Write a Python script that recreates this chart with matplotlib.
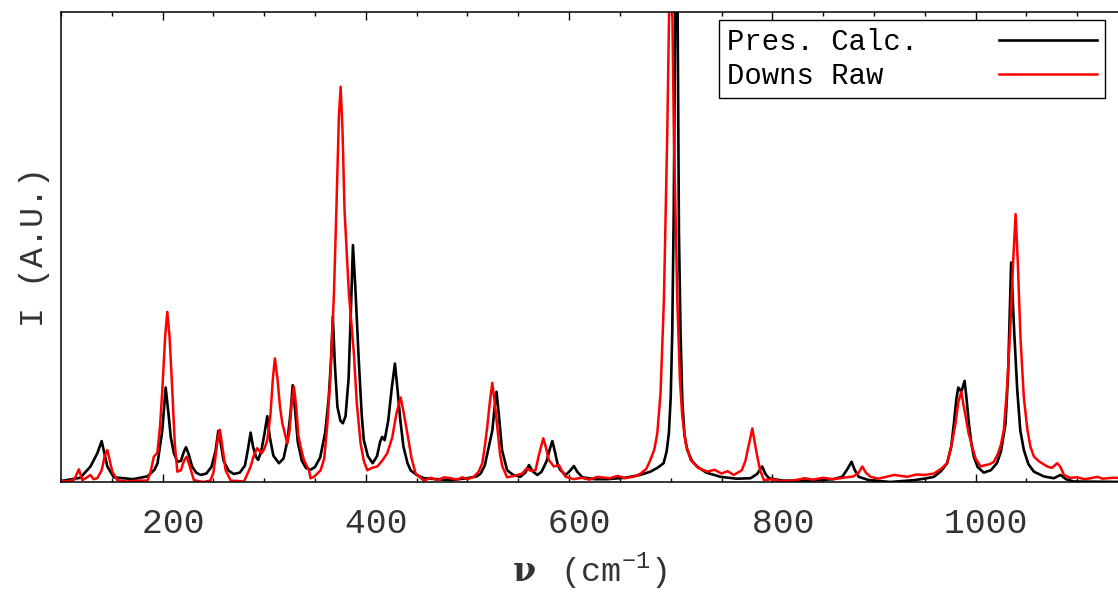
import matplotlib
matplotlib.use('Agg')
import matplotlib.pyplot as plt
from matplotlib.ticker import MultipleLocator

plt.rcParams['font.family'] = ['Liberation Mono', 'DejaVu Sans']
plt.rcParams['mathtext.fontset'] = 'custom'
plt.rcParams['mathtext.rm'] = 'Liberation Mono'
plt.rcParams['mathtext.bf'] = 'DejaVu Serif:bold'

# Pres. Calc. (black)
calc_x = [100, 119, 129, 135.7, 140, 142, 145.6, 152, 171, 185, 192, 195, 199.7, 203, 206, 208,
          211, 214.5, 218, 221, 223, 225.5, 229, 233, 237.4, 243, 248, 252, 254.8, 257, 260,
          265, 270, 276, 281, 284, 286.6, 289, 292, 294, 297, 300, 303, 305.5, 309, 314.5,
          319, 323, 326, 328, 330.5, 333, 337, 341, 345.6, 350, 355, 360, 363.5, 366, 367.5,
          369.5, 372, 375, 377.4, 380, 383, 385.5, 387.3, 389.5, 393, 396, 398, 402, 406.7,
          411, 414, 416, 418.5, 422, 425.5, 428.6, 431, 434, 437, 441, 444, 450, 457, 483,
          500, 509, 513, 517, 521, 524.5, 526.5, 528.6, 531, 534, 539, 545, 552, 557, 560.5,
          564, 568.7, 573, 578, 581, 583.5, 586, 589, 591.6, 596.6, 601, 604.7, 608, 613,
          625, 637.6, 655, 670, 680, 686.8, 693, 696, 698.2, 700, 701.5, 703, 704.4, 705.6,
          706.8, 708.1, 709.7, 711.4, 713.5, 716.3, 721, 726, 735, 749, 765, 778.6, 785, 790,
          793, 796.6, 810, 840, 860, 868.8, 874, 878, 881, 885, 895, 916, 940, 952, 959, 966,
          972, 976, 978.7, 981, 983, 986, 989.2, 991, 993.4, 996, 998.3, 1002, 1008, 1015,
          1021, 1025, 1029.5, 1032, 1035, 1038, 1041, 1044, 1047.5, 1052, 1057.4, 1067, 1077,
          1083.6, 1089, 1096.7, 1150]
calc_y = [0.2, 0.9, 3.3, 6.1, 8.7, 6.8, 3.3, 1.0, 0.6, 1.2, 2.6, 4.0, 11, 20.1, 14, 9.6,
          6.2, 4.3, 4.5, 6.5, 7.4, 6.0, 3.3, 2.0, 1.5, 1.8, 3.2, 6.5, 10.9, 8.5, 4.5,
          2.4, 1.7, 2.0, 3.5, 7, 10.5, 7.5, 5.3, 4.7, 6.5, 10, 14, 9.5, 5.6, 4.0,
          5.0, 9, 15, 20.6, 15, 8.5, 4.5, 3.0, 2.6, 3.2, 5.2, 10.5, 18, 27, 35.2,
          25, 16, 13, 12.5, 14, 22, 38, 50.4, 42, 26, 14, 8.9, 5.5, 4.0,
          5.5, 8.5, 9.6, 8.9, 13, 20, 25.2, 20, 13, 7.5, 4, 2.5, 1.5, 0.8, 0.4,
          0.8, 1.2, 1.8, 3.5, 7.5, 11, 15.5, 19.2, 14, 6.8, 2.5, 1.5, 1.1, 2.0, 3.6,
          2.3, 1.5, 2.2, 4.5, 7, 8.7, 6.5, 3.5, 2.5, 1.5, 2.4, 3.4, 2.2, 1.0,
          0.6, 0.6, 0.9, 1.5, 2.2, 3.0, 4.0, 6.5, 10.4, 18, 31.6, 58, 100, 150,
          100, 53, 31.6, 17.4, 10, 6.8, 4.5, 3.3, 2.0, 1.1, 0.7, 0.8, 1.7, 3.3,
          1.8, 0.8, 0.3, 0.3, 0.6, 1.1, 2.8, 4.3, 2.6, 1.1, 0.4, 0.0, 0.4, 0.8, 1.1, 2.3,
          4.0, 7.5, 12.5, 17.5, 20.1, 19.2, 21.5, 18, 12.5, 8, 5.4, 3.2, 2.0, 2.5,
          4.0, 6.5, 12.5, 23, 46.7, 32, 19.6, 11, 6.8, 3.8, 2.2, 1.2, 0.8,
          1.5, 0.6, 0.1, 0.0]

# Downs Raw (red)
raw_x = [100, 106, 113, 117.6, 121, 125, 129, 132, 135.7, 140, 143, 145.6, 148, 150.5, 155.4,
         165, 175, 185, 188, 191.4, 194.8, 197.5, 199.7, 202.5, 204.6, 206.8, 209.5, 212,
         214.5, 218, 221, 223.6, 226.5, 230.8, 240, 247, 250, 252, 254.5, 256.4, 258.5, 262,
         267, 275, 280, 283, 286.6, 290, 293, 297.4, 300, 303, 306, 308.5, 310.5, 313, 315.5,
         317.8, 322.7, 325, 327, 329.2, 331.5, 333.5, 335.8, 339, 344, 345.6, 349, 355.5,
         359, 362, 365, 368.6, 371, 373.5, 375.2, 377, 379, 383.3, 388.2, 391, 394.8, 398,
         401.4, 406, 411.3, 416, 421, 426, 430, 434.2, 437, 440.8, 445, 449, 457, 464, 470,
         477, 483.4, 490, 495, 500, 506.3, 511, 514.6, 517, 519.5, 522, 524.4, 526.5, 529.3,
         532, 534.3, 539, 546, 554, 558.2, 562, 567, 570, 574.6, 577, 580, 585, 590, 593,
         596.6, 604.7, 612, 620, 628, 640, 648, 655, 665, 670.4, 676, 680, 684, 686.8, 690,
         693.3, 696.6, 698.5, 699.9, 701.6, 703.1, 706.5, 709, 711.4, 715, 719.5, 727, 736,
         743, 750, 756, 762, 770, 773.5, 777, 780.3, 783, 785.2, 788, 791.7, 800, 808, 820,
         832, 840, 850, 860, 870, 880, 885, 888.5, 892, 896.7, 904, 910, 920, 932.8, 942, 950,
         959, 966, 972, 976, 980.3, 983, 986, 988, 990.3, 993, 996.7, 1000, 1005, 1009.8,
         1014, 1018, 1022, 1025, 1027.8, 1031, 1034.4, 1037, 1039.4, 1041.5, 1044.3, 1047.5,
         1051, 1054, 1057.4, 1063, 1070.5, 1075, 1080.4, 1083.5, 1087, 1093, 1100, 1107,
         1113, 1120, 1125, 1135, 1150]
raw_y = [0.3, 0.1, 0.5, 2.7, 0.4, 0.9, 1.5, 0.6, 0.8, 2.5, 5.5, 6.8, 4.5, 2.2, 0.4,
         0.1, 0.3, 0.3, 2.0, 5.4, 6.2, 12, 19.6, 31, 36.2, 31, 19.6, 8,
         2.2, 2.5, 4.5, 5.4, 3.5, 0.4, 0.0, 0.3, 2.0, 5.4, 9.5, 11.1, 8, 2.5,
         0.3, 0.2, 0.1, 1.5, 3.3, 5.8, 7.2, 6.1, 7.0, 8.9, 14, 22, 26.3, 22, 16,
         12.5, 8.2, 11, 17, 20.3, 16, 10, 7.5, 4.7, 2.5, 0.8, 1.1, 2.5,
         5, 12, 22, 40.1, 58, 78, 84.1, 75, 57.9, 40.1, 27.4, 17, 8.2, 4.5,
         2.5, 3.0, 3.3, 4.5, 6.1, 9.5, 14.5, 18, 15, 10.4, 5, 1.8, 0.3, 0.9, 0.4,
         1.0, 0.8, 0.5, 1.0, 0.6, 1.1, 2.2, 4.0, 7.5, 11.8, 17, 21.1, 17.5, 11.8,
         6, 3.3, 1.0, 1.3, 1.8, 2.9, 2.4, 2.5, 5.5, 9.3, 7.5, 4.7, 3.3, 3.6, 2.3,
         1.1, 0.6, 0.9, 0.5, 1.1, 0.8, 1.3, 0.8, 1.2, 1.8, 2.8, 4.7, 7, 10.4, 18.9,
         38.7, 74.2, 100, 140, 100, 74.2, 38.7, 22, 13.9, 8, 4.7, 3.0, 2.2,
         2.6, 1.8, 2.3, 1.5, 2.5, 4.5, 8, 11.4, 8, 5.4, 2.5, 0.4, 0.6, 0.2, 0.3,
         0.8, 0.5, 0.9, 0.6, 0.9, 1.2, 2.0, 3.3, 2.0, 1.1, 0.7, 1.0, 1.5, 1.1, 1.6, 1.5,
         1.8, 2.8, 4.0, 7.5, 12.5, 17, 19.2, 16.5, 13.9, 10.5, 7.5, 5, 3.3, 3.6,
         3.8, 4.3, 6, 8, 11.1, 20, 33.8, 47, 57, 47, 30.2, 18,
         11.1, 7.5, 5.4, 4.3, 3.3, 3.0, 4.0, 3.2, 1.5, 0.9, 1.0, 0.6,
         0.8, 1.1, 0.7, 0.9, 0.8]

tick_vals = [200, 400, 600, 800, 1000]
tick_text = [' 200', ' 400', ' 600', ' 800', ' 1000']

fig = plt.figure(figsize=(11.18, 6.01), dpi=100)
ax = fig.add_axes([61 / 1118, 119 / 601, 1067 / 1118, 470 / 601])

ax.plot(calc_x, calc_y, color='black', lw=1.9, label='Pres. Calc.')
ax.plot(raw_x, raw_y, color='#ff0000', lw=1.8, label='Downs Raw')

ax.set_xlim(100, 1150)
ax.set_ylim(0, 100)
ax.set_yticks([])
ax.set_xticks(tick_vals)
ax.set_xticklabels(tick_text)
ax.xaxis.set_minor_locator(MultipleLocator(50))
ax.tick_params(axis='x', which='both', direction='in', top=True, bottom=True,
               labelsize=25, labelcolor='#333333', pad=18, width=1)
ax.tick_params(axis='x', which='major', length=6)
ax.tick_params(axis='x', which='minor', length=3)
for s in ax.spines.values():
    s.set_linewidth(1.1)

ax.set_ylabel('I (A.U.)', fontsize=24, color='#333333', labelpad=8)
ax.set_xlabel(r'$\mathbf{\nu}\,$ (cm$^{-1}$)', fontsize=24, color='#333333')
ax.xaxis.set_label_coords(0.495, -0.145)

leg = ax.legend(loc='upper right', bbox_to_anchor=(1105 / 1118, 581 / 601),
                bbox_transform=fig.transFigure, borderaxespad=0, markerfirst=False,
                fancybox=False, edgecolor='black', fontsize=20.8, handlelength=3.4,
                handletextpad=2.8, borderpad=0.28, labelspacing=0.2, framealpha=1)
leg.get_frame().set_linewidth(1.0)
leg.get_texts()[1].set_text('Downs Raw  ')

fig.savefig('out.png', dpi=100)
